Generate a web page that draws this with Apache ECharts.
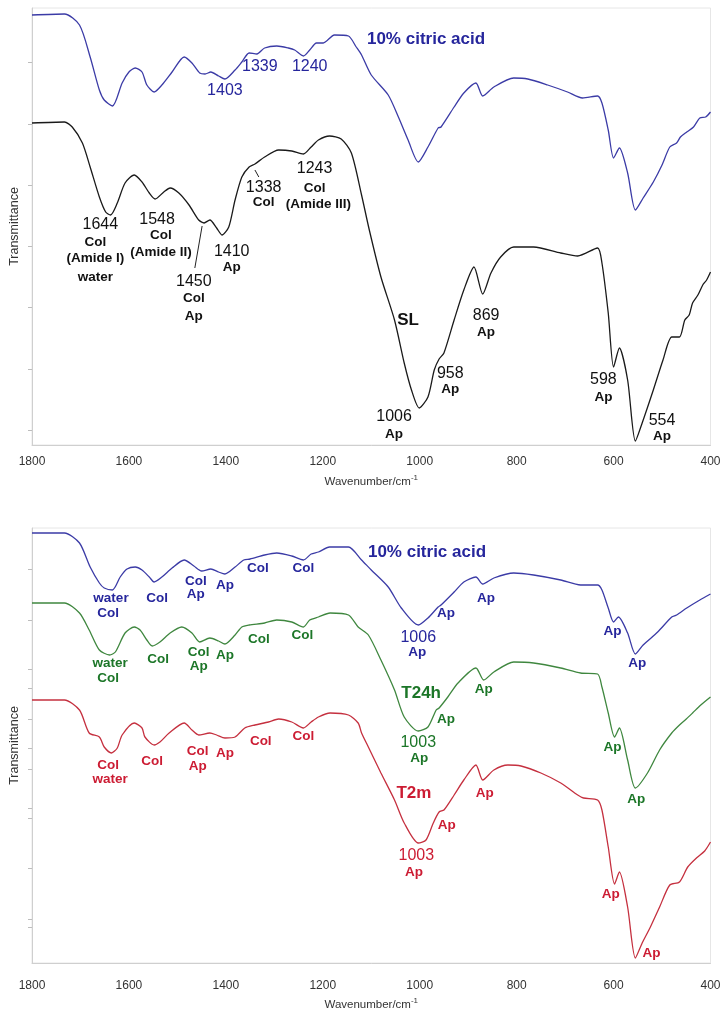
<!DOCTYPE html>
<html>
<head>
<meta charset="utf-8">
<script src="https://cdn.jsdelivr.net/npm/echarts@6/dist/echarts.min.js"></script>
<style>
html,body{margin:0;padding:0;background:#fff;}
#chart{width:728px;height:1019px;}
</style>
</head>
<body>
<div id="chart"></div>
<script>
// ---------- DATA (wavenumber cm-1, transmittance a.u.) ----------
const topCitric = [[1800,430],[1733,431],[1702,420],[1680,388],[1661,355],[1651,345],[1634,339],[1614,362],[1600,373],[1587,377],[1573,373],[1563,360],[1548,353],[1532,360],[1511,373],[1486,388],[1470,382],[1454,372],[1443,371],[1431,373],[1415,369],[1402,366],[1381,375],[1367,383],[1352,392],[1336,391],[1320,397],[1295,399],[1271,397],[1258,395],[1240,389],[1227,395],[1213,402],[1199,402],[1176,410],[1147,409],[1131,398],[1120,390],[1100,370],[1065,350],[1044,328],[1024,305],[1003,283],[983,298],[962,317],[956,318],[929,338],[909,352],[884,362],[870,349],[847,358],[806,367],[777,366],[736,360],[695,353],[664,347],[633,349],[624,342],[611,315],[600,287],[588,297],[571,272],[555,235],[539,247],[518,263],[500,280],[484,298],[470,302],[462,308],[449,313],[435,318],[422,327],[410,328],[400,333]];
const topSL = [[1800,322],[1733,323],[1717,318],[1696,302],[1680,278],[1661,248],[1648,233],[1638,230],[1624,242],[1608,262],[1589,270],[1573,263],[1558,252],[1546,246],[1528,253],[1515,257],[1497,252],[1476,240],[1456,225],[1445,222],[1433,225],[1419,217],[1408,210],[1394,218],[1381,245],[1367,268],[1352,278],[1340,281],[1320,288],[1291,295],[1264,294],[1240,291],[1224,298],[1209,305],[1186,309],[1162,306],[1141,292],[1120,250],[1104,215],[1080,168],[1052,125],[1032,82],[1017,55],[1001,37],[983,48],[970,75],[960,86],[950,92],[929,125],[909,155],[888,178],[870,151],[853,172],[833,188],[806,198],[765,198],[709,192],[674,189],[633,197],[624,182],[611,132],[600,78],[588,97],[571,65],[555,4],[541,22],[518,55],[498,85],[480,108],[464,108],[453,125],[444,130],[437,142],[426,150],[416,160],[408,165],[400,173]];
const botCitric = [[1800,430],[1733,430],[1702,420],[1680,396],[1661,380],[1651,375],[1634,373],[1618,386],[1604,394],[1587,396],[1573,393],[1558,386],[1548,381],[1532,386],[1511,395],[1486,403],[1466,397],[1450,392],[1431,394],[1415,391],[1402,389],[1381,396],[1363,403],[1350,404],[1320,408],[1295,410],[1264,407],[1240,403],[1224,409],[1209,411],[1186,416],[1147,416],[1120,403],[1100,393],[1065,376],[1038,355],[1003,338],[983,345],[962,356],[956,358],[929,371],[909,381],[884,386],[870,379],[847,385],[806,390],[765,388],[709,383],[668,378],[633,378],[624,373],[611,355],[600,341],[590,346],[571,330],[555,309],[539,318],[509,331],[480,346],[470,348],[449,355],[422,363],[400,369]];
const botT24h = [[1800,360],[1733,360],[1702,350],[1682,333],[1661,313],[1640,308],[1628,311],[1608,330],[1589,336],[1577,333],[1563,323],[1552,317],[1536,321],[1515,330],[1491,336],[1470,330],[1454,321],[1433,325],[1415,322],[1402,319],[1381,328],[1367,336],[1352,338],[1320,340],[1295,343],[1264,341],[1240,336],[1227,343],[1209,346],[1185,350],[1147,348],[1127,336],[1106,328],[1080,303],[1052,273],[1032,246],[1003,232],[983,236],[966,253],[960,255],[942,266],[921,280],[884,295],[868,283],[847,291],[806,301],[765,300],[709,295],[668,290],[633,289],[624,276],[611,250],[598,226],[588,235],[571,203],[555,175],[530,190],[505,213],[480,230],[464,238],[450,244],[437,250],[420,258],[400,266]];
const botT2m = [[1800,263],[1733,263],[1702,253],[1682,230],[1661,226],[1651,216],[1636,210],[1624,215],[1614,228],[1589,240],[1573,235],[1567,226],[1548,218],[1536,221],[1517,230],[1486,240],[1470,233],[1456,228],[1433,230],[1419,228],[1402,225],[1381,226],[1361,235],[1340,238],[1312,241],[1291,244],[1264,241],[1240,235],[1224,241],[1209,246],[1185,250],[1147,248],[1127,240],[1120,230],[1106,216],[1080,190],[1052,163],[1032,140],[1003,120],[987,123],[972,140],[960,151],[950,153],[929,168],[909,183],[884,198],[870,183],[847,193],[818,198],[791,197],[750,190],[709,180],[674,168],[662,165],[633,163],[624,153],[611,116],[598,79],[588,91],[571,56],[555,5],[541,20],[524,36],[505,56],[484,78],[464,81],[447,96],[429,105],[412,112],[400,121]];

// annotations: [wavenumber, transmittance, text, kind]  kind: n=number, b=bold tag, t=title
const topCitricLabels = [[987,406,'10% citric acid','t'],[1402,354,'1403','n'],[1330,378,'1339','n'],[1227,378,'1240','n']];
const topSLLabels = [[1659,220,'1644','n'],[1669,203,'Col','b'],[1669,187,'(Amide I)','b'],[1669,168,'water','b'],
  [1542,225,'1548','n'],[1534,210,'Col','b'],[1534,193,'(Amide II)','b'],
  [1388,193,'1410','n'],[1388,178,'Ap','b'],
  [1466,163,'1450','n'],[1466,147,'Col','b'],[1466,129,'Ap','b'],
  [1322,257,'1338','n'],[1322,243,'Col','b'],
  [1217,276,'1243','n'],[1217,257,'Col','b'],[1209,241,'(Amide III)','b'],
  [1024,125,'SL','t'],[937,71,'958','n'],[937,56,'Ap','b'],[863,129,'869','n'],[863,113,'Ap','b'],
  [1053,28,'1006','n'],[1053,11,'Ap','b'],[621,65,'598','n'],[621,48,'Ap','b'],[500,24,'554','n'],[500,9,'Ap','b']];
const topSLLeaders = [[[1464,177],[1449,219]],[[1332,268],[1340,275]]];
const botCitricLabels = [[985,411,'10% citric acid','t'],[1637,365,'water','b'],[1643,350,'Col','b'],[1542,365,'Col','b'],
  [1462,382,'Col','b'],[1462,369,'Ap','b'],[1402,378,'Ap','b'],[1334,395,'Col','b'],[1240,395,'Col','b'],
  [946,350,'Ap','b'],[863,365,'Ap','b'],[1003,325,'1006','n'],[1005,311,'Ap','b'],[602,332,'Ap','b'],[551,300,'Ap','b']];
const botT24hLabels = [[1639,300,'water','b'],[1643,285,'Col','b'],[1540,304,'Col','b'],[1456,311,'Col','b'],[1456,297,'Ap','b'],
  [1402,308,'Ap','b'],[1332,324,'Col','b'],[1242,328,'Col','b'],[997,270,'T24h','t'],[868,274,'Ap','b'],[946,244,'Ap','b'],
  [1003,220,'1003','n'],[1001,205,'Ap','b'],[602,216,'Ap','b'],[553,164,'Ap','b']];
const botT2mLabels = [[1643,198,'Col','b'],[1639,184,'water','b'],[1552,202,'Col','b'],[1458,212,'Col','b'],[1458,197,'Ap','b'],
  [1402,210,'Ap','b'],[1328,222,'Col','b'],[1240,227,'Col','b'],[1012,170,'T2m','t'],[866,170,'Ap','b'],[944,138,'Ap','b'],
  [1007,107,'1003','n'],[1012,91,'Ap','b'],[606,69,'Ap','b'],[522,10,'Ap','b']];

const topTicks = [383,321,260,199,138,76,15];
const botTicks = [394,343,294,275,244,215,194,155,145,95,44,36];

// ---------- STYLE ----------
const FONT = '"Liberation Sans", Arial, sans-serif';
const BLUE_L = '#3b3ba6', BLUE_T = '#26269c';
const BLACK_L = '#1a1a1a', BLACK_T = '#111';
const GREEN_L = '#3f873f', GREEN_T = '#1c7628';
const RED_L = '#c5303f', RED_T = '#cc1c33';

function lineSeries(data, color, idx){
  return {type:'line', data:data, xAxisIndex:idx, yAxisIndex:idx, showSymbol:false, smooth:0.25,
    lineStyle:{color:color, width:1.3, opacity:1}, silent:true, z:2};
}
function labelSeries(items, color, idx){
  return {type:'scatter', xAxisIndex:idx, yAxisIndex:idx, symbolSize:0, silent:true, z:5,
    itemStyle:{opacity:1},
    data: items.map(function(a){
      var st = a[3]==='n' ? {fontSize:16, fontWeight:'normal'} : a[3]==='t' ? {fontSize:17, fontWeight:'bold'} : {fontSize:13.5, fontWeight:'bold'};
      return {value:[a[0],a[1]], itemStyle:{opacity:1},
        label:{show:true, position:'inside', formatter:a[2], color:color, opacity:1, fontFamily:FONT,
        fontSize:st.fontSize, fontWeight:st.fontWeight, lineHeight:st.fontSize}};
    })};
}
function xAxis(idx, margin){
  return {type:'value', gridIndex:idx, inverse:true, min:400, max:1800, interval:200,
    axisLine:{lineStyle:{color:'#cfcfcf'}}, axisTick:{show:false}, splitLine:{show:false},
    axisLabel:{color:'#333', fontSize:12, fontFamily:FONT, margin:margin, formatter:function(v){return String(v);}},
    name:'Wavenumber/cm{sup|-1}', nameLocation:'middle', nameGap: idx===0 ? 29 : 34,
    nameTextStyle:{color:'#333', fontSize:11.5, fontFamily:FONT,
      rich:{sup:{fontSize:8, color:'#333', fontFamily:FONT, padding:[0,0,7,0]}}}};
}
function yAxis(idx, max, ticks){
  return {type:'value', gridIndex:idx, min:0, max:max,
    axisLine:{show:true, lineStyle:{color:'#cfcfcf'}},
    axisTick:{show:true, length:4, customValues:ticks, lineStyle:{color:'#bdbdbd'}},
    axisLabel:{show:false, customValues:ticks}, splitLine:{show:false},
    name:'Transmittance', nameLocation:'middle', nameGap:11, nameRotate:90,
    nameTextStyle:{color:'#333', fontSize:12.5, fontFamily:FONT}};
}

const chart = echarts.init(document.getElementById('chart'), null, {renderer:'canvas'});
chart.setOption({
  backgroundColor:'#fff',
  animation:false,
  grid:[
    {left:29.5, top:8, width:681, height:437, show:true, borderColor:'#e6e6e6', borderWidth:1, backgroundColor:'transparent'},
    {left:29.5, top:528, width:681, height:435, show:true, borderColor:'#e6e6e6', borderWidth:1, backgroundColor:'transparent'}
  ],
  xAxis:[xAxis(0, 11), xAxis(1, 17)],
  yAxis:[yAxis(0, 437, topTicks), yAxis(1, 435, botTicks)],
  series:[
    lineSeries(topCitric, BLUE_L, 0),
    lineSeries(topSL, BLACK_L, 0),
    {type:'lines', coordinateSystem:'cartesian2d', xAxisIndex:0, yAxisIndex:0, silent:true,
      data: topSLLeaders.map(function(c){return {coords:c};}), lineStyle:{color:'#222', width:1, opacity:1}},
    lineSeries(botCitric, BLUE_L, 1),
    lineSeries(botT24h, GREEN_L, 1),
    lineSeries(botT2m, RED_L, 1),
    labelSeries(topCitricLabels, BLUE_T, 0),
    labelSeries(topSLLabels, BLACK_T, 0),
    labelSeries(botCitricLabels, BLUE_T, 1),
    labelSeries(botT24hLabels, GREEN_T, 1),
    labelSeries(botT2mLabels, RED_T, 1)
  ]
});
</script>
</body>
</html>
